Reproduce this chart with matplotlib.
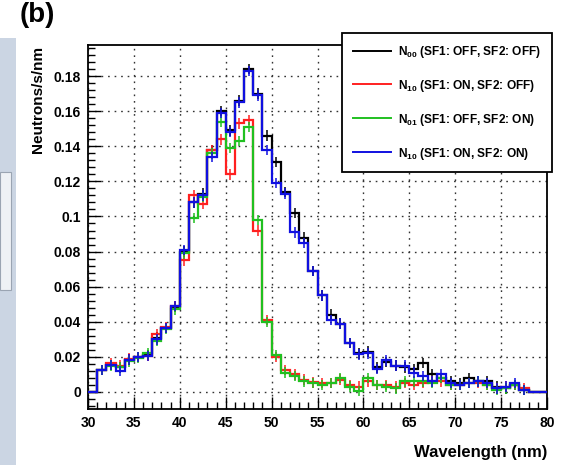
import numpy as np
import matplotlib
matplotlib.use("Agg")
import matplotlib.pyplot as plt
from matplotlib.patches import Rectangle
from matplotlib.ticker import MultipleLocator

plt.rcParams['font.family'] = ['Liberation Sans', 'DejaVu Sans']
plt.rcParams['font.weight'] = 'bold'
plt.rcParams['mathtext.fontset'] = 'custom'
plt.rcParams['mathtext.rm'] = 'Liberation Sans:bold'
plt.rcParams['mathtext.it'] = 'Liberation Sans:bold'
plt.rcParams['mathtext.bf'] = 'Liberation Sans:bold'

# ---- data (bins of 1 nm from 30 to 80) ----
bin_edges = list(range(30, 81))

n00 = [0, 0.0125, 0.0155, 0.0140, 0.0185, 0.0200, 0.0210, 0.0310, 0.0365, 0.0485,
       0.0800, 0.1080, 0.1130, 0.1380, 0.1600, 0.1490, 0.1660, 0.1840, 0.1700, 0.1460,
       0.1310, 0.1140, 0.1020, 0.0880, 0.0690, 0.0550, 0.0440, 0.0390, 0.0280, 0.0220,
       0.0230, 0.0140, 0.0170, 0.0150, 0.0140, 0.0130, 0.0165, 0.0100, 0.0080, 0.0060,
       0.0050, 0.0080, 0.0060, 0.0060, 0.0030, 0.0020, 0.0040, 0.0010, 0, 0]

n10 = [0, 0.0125, 0.0165, 0.0150, 0.0190, 0.0200, 0.0205, 0.0330, 0.0370, 0.0490,
       0.0750, 0.1120, 0.1070, 0.1380, 0.1440, 0.1240, 0.1530, 0.1550, 0.0920, 0.0410,
       0.0200, 0.0125, 0.0100, 0.0070, 0.0055, 0.0050, 0.0050, 0.0070, 0.0040, 0.0030,
       0.0060, 0.0040, 0.0040, 0.0030, 0.0050, 0.0040, 0.0050, 0.0060, 0.0060, 0.0040,
       0.0040, 0.0050, 0.0050, 0.0040, 0.0020, 0.0030, 0.0040, 0.0020, 0, 0]

n01 = [0, 0.0125, 0.0150, 0.0140, 0.0175, 0.0195, 0.0220, 0.0290, 0.0360, 0.0470,
       0.0790, 0.0990, 0.1110, 0.1360, 0.1540, 0.1390, 0.1430, 0.1510, 0.0980, 0.0400,
       0.0210, 0.0110, 0.0090, 0.0060, 0.0050, 0.0040, 0.0050, 0.0080, 0.0030, 0.0005,
       0.0080, 0.0040, 0.0030, 0.0020, 0.0060, 0.0060, 0.0060, 0.0050, 0.0080, 0.0040,
       0.0040, 0.0050, 0.0060, 0.0040, 0.0010, 0.0020, 0.0040, 0.0010, 0, 0]

n11 = [0, 0.0125, 0.0155, 0.0120, 0.0185, 0.0200, 0.0205, 0.0300, 0.0365, 0.0490,
       0.0810, 0.1080, 0.1120, 0.1340, 0.1590, 0.1480, 0.1650, 0.1830, 0.1690, 0.1380,
       0.1190, 0.1130, 0.0910, 0.0850, 0.0690, 0.0550, 0.0410, 0.0390, 0.0280, 0.0215,
       0.0220, 0.0130, 0.0180, 0.0150, 0.0150, 0.0110, 0.0090, 0.0060, 0.0100, 0.0050,
       0.0040, 0.0050, 0.0060, 0.0050, 0.0020, 0.0030, 0.0050, 0.0010, 0, 0]

y_err = 0.003

labels = [r"N$_{00}$ (SF1: OFF, SF2: OFF)",
          r"N$_{10}$ (SF1: ON, SF2: OFF)",
          r"N$_{01}$ (SF1: OFF, SF2: ON)",
          r"N$_{10}$ (SF1: ON, SF2: ON)"]
series = [n00, n10, n01, n11]
colors = ['#000000', '#ff2020', '#20c020', '#1010e0']

x_ticks = [30, 35, 40, 45, 50, 55, 60, 65, 70, 75, 80]
y_ticks = [0, 0.02, 0.04, 0.06, 0.08, 0.1, 0.12, 0.14, 0.16, 0.18]
y_tick_labels = ['0', '0.02', '0.04', '0.06', '0.08', '0.1', '0.12', '0.14', '0.16', '0.18']

# ---- figure ----
W, H = 561, 465
fig = plt.figure(figsize=(W / 100, H / 100), dpi=100)
fig.patch.set_facecolor('white')

# cropped neighbouring panel at the very left
fig.patches.append(Rectangle((0, 0), 16 / W, 1 - 38 / H, transform=fig.transFigure,
                             facecolor='#cbd5e3', edgecolor='none', zorder=0))
fig.patches.append(Rectangle((0, 1 - 290 / H), 11 / W, 118 / H, transform=fig.transFigure,
                             facecolor='#eef1f5', edgecolor='#9aa4b2', lw=0.8, zorder=1))

ax = fig.add_axes([88 / W, 1 - 409 / H, (547 - 88) / W, (409 - 45) / H])

edges = np.array(bin_edges, dtype=float)
centers = 0.5 * (edges[:-1] + edges[1:])
for vals, col, lab in zip(series, colors, labels):
    v = np.array(vals)
    ax.stairs(v, edges, color=col, lw=1.6, label=lab, zorder=3)
    m = v > 0
    ax.errorbar(centers[m], v[m], yerr=y_err, xerr=0.35, fmt='none', ecolor=col,
                elinewidth=1.1, capsize=0, zorder=3)

ax.set_xlim(30, 80)
ax.set_ylim(-0.0097, 0.1977)
ax.set_xticks(x_ticks)
ax.set_xticklabels([str(t) for t in x_ticks])
ax.set_yticks(y_ticks)
ax.set_yticklabels(y_tick_labels)
ax.xaxis.set_minor_locator(MultipleLocator(1))
ax.yaxis.set_minor_locator(MultipleLocator(0.004))
ax.tick_params(which='both', direction='in', top=False, right=False,
               labelsize=10, width=1, color='black')
ax.tick_params(which='major', length=9, pad=5)
ax.tick_params(which='minor', length=5)
for lbl in ax.get_xticklabels() + ax.get_yticklabels():
    lbl.set_fontweight('bold')

ax.grid(True, which='major', color='#333333', linestyle=(0, (1.2, 3.5)), lw=1.0)
ax.set_axisbelow(True)
for sp in ax.spines.values():
    sp.set_linewidth(1.3)

fig.text(547 / W, 1 - 452 / H, 'Wavelength (nm)', ha='right', va='center',
         fontsize=12, fontweight='bold')
fig.text(38 / W, 1 - 46 / H, 'Neutrons/s/nm', rotation=90, ha='center', va='top',
         fontsize=11, fontweight='bold')
fig.text(20 / W, 1 - 15 / H, '(b)', ha='left', va='center', fontsize=20,
         fontweight='bold')

leg = ax.legend(loc='upper right', bbox_to_anchor=(552 / W, 1 - 33 / H),
                bbox_transform=fig.transFigure, borderaxespad=0, frameon=True,
                fancybox=False, edgecolor='black', framealpha=1,
                handlelength=3.2, handletextpad=0.6, labelspacing=1.5,
                borderpad=0.9, prop={'weight': 'bold', 'size': 8.6})
leg.get_frame().set_linewidth(1.3)
leg.set_zorder(5)
for h in leg.legend_handles:
    h.set_linewidth(1.4)

fig.savefig('out.png', dpi=100)
